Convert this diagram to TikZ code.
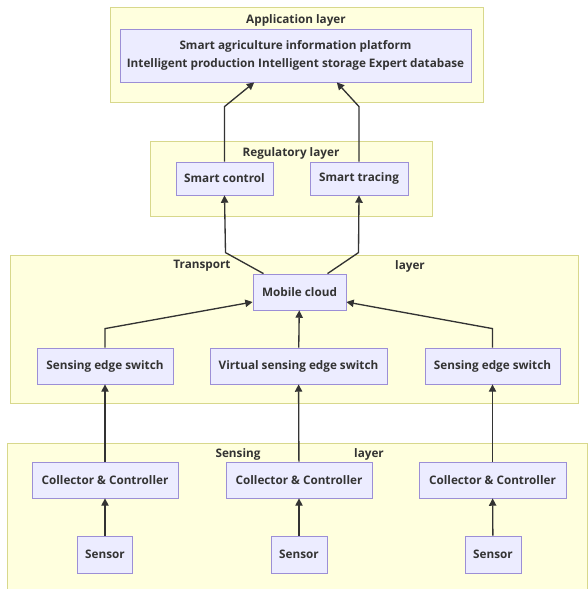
\documentclass[tikz,border=0pt]{standalone}
\usepackage{fontspec}
\setmainfont{Open Sans}
\usetikzlibrary{positioning,arrows.meta}
\definecolor{layerfill}{HTML}{FFFFDE}
\definecolor{layerline}{HTML}{D8D88C}
\definecolor{boxfill}{HTML}{ECECFF}
\definecolor{boxline}{HTML}{9C8FD6}
\definecolor{ink}{HTML}{333333}
\tikzset{
  layer/.style 2 args={draw=layerline,fill=layerfill,line width=0.6pt,
    minimum width=#1*0.75pt,minimum height=#2*0.75pt,inner sep=0pt},
  unit/.style 2 args={draw=boxline,fill=boxfill,line width=0.6pt,text=ink,
    font=\bfseries\fontsize{8.8}{13.5}\selectfont,align=center,
    minimum width=#1*0.75pt,minimum height=#2*0.75pt,inner sep=0pt},
  title/.style={text=ink,font=\bfseries\fontsize{8.8}{10}\selectfont,inner sep=0pt},
  flow/.style={draw=ink,line width=1pt,-{Triangle[length=5.5pt,width=5.5pt]}}
}
\begin{document}
\begin{tikzpicture}[x=0.75pt,y=-0.75pt]
  \useasboundingbox (0,0) rectangle (587,589);
  % layers
  \node[layer={373}{95}] (applayer) at (296.5,54.5) {};
  \node[layer={282}{75}] (reglayer) at (291,178.5) {};
  \node[layer={568}{148}] (translayer) at (294,329) {};
  \node[layer={580}{146}] (senslayer) at (297,516) {};
  \node[title] (apptitle) at (296,20) {Application layer};
  \node[title] (regtitle) at (291,153) {Regulatory layer};
  \node[title] (transA) at (202,266) {Transport};
  \node[title] (transB) at (410,266) {layer};
  \node[title] (sensA) at (238,454) {Sensing};
  \node[title] (sensB) at (369,454) {layer};
  % application
  \node[unit={351}{53}] (platform) at (295.5,55.5)
    {Smart agriculture information platform\\Intelligent production Intelligent storage Expert database};
  % regulatory
  \node[unit={97}{33}] (ctrl) at (224.5,178.5) {Smart control};
  \node[unit={98}{33}] (trace) at (359,178.5) {Smart tracing};
  % transport
  \node[unit={93}{36}] (cloud) at (299.5,292) {Mobile cloud};
  \node[unit={136}{36}] (switchA) at (105,366) {Sensing edge switch};
  \node[unit={177}{36}] (switchB) at (298.5,366) {Virtual sensing edge switch};
  \node[unit={135}{36}] (switchC) at (492.5,366) {Sensing edge switch};
  % sensing
  \node[unit={146}{36}] (collA) at (105,480) {Collector \& Controller};
  \node[unit={146}{36}] (collB) at (299,480) {Collector \& Controller};
  \node[unit={147}{36}] (collC) at (492.5,480) {Collector \& Controller};
  \node[unit={55}{37}] (sensorA) at (105,554.5) {Sensor};
  \node[unit={56}{37}] (sensorB) at (299,554.5) {Sensor};
  \node[unit={56}{37}] (sensorC) at (493,554.5) {Sensor};
  % connectors
  \draw[flow] (sensorA) -- (collA);
  \draw[flow] (sensorB) -- (collB);
  \draw[flow] (sensorC) -- (collC);
  \draw[flow] (collA) -- (switchA);
  \draw[flow] (collB) -- (switchB);
  \draw[flow] (collC) -- (switchC);
  \draw[flow] (switchA.north) -- ++(0,-19) -- ([yshift=-7.5pt]cloud.west);
  \draw[flow] (switchB) -- (cloud);
  \draw[flow] (switchC.north) -- ++(0,-19) -- ([yshift=-7.5pt]cloud.east);
  \draw[flow] ([xshift=-27pt]cloud.north) -- ++(-38,-21) -- (ctrl.south);
  \draw[flow] ([xshift=21pt]cloud.north) -- ++(31,-21) -- (trace.south);
  \draw[flow] (ctrl.north) -- ++(0,-55) -- ([xshift=-31pt]platform.south);
  \draw[flow] (trace.north) -- ++(0,-55) -- ([xshift=31pt]platform.south);
\end{tikzpicture}
\end{document}
